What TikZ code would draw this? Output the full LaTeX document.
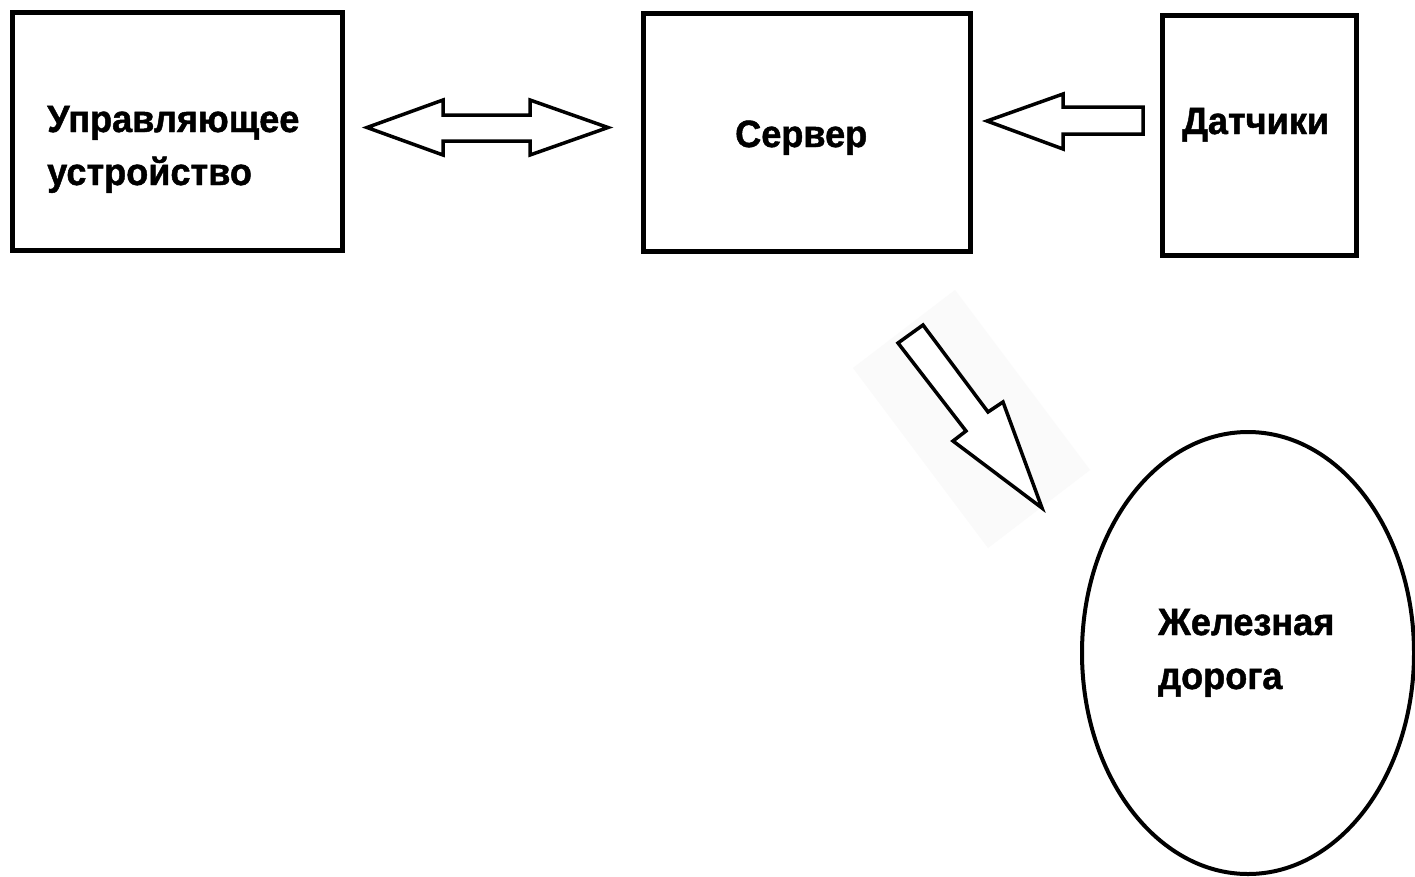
\documentclass[tikz,border=0pt]{standalone}
\usepackage{fontspec}
\setmainfont{Liberation Sans}
\newfontfamily\lblfont[FakeStretch=0.95, BoldFeatures={FakeBold=1.2}]{Liberation Sans}
\usetikzlibrary{shapes.geometric}
\begin{document}
\begin{tikzpicture}[x=1pt,y=-1pt,
  box/.style={draw, line width=5pt, fill=white, inner sep=0pt},
  oval/.style={ellipse, draw, line width=4pt, fill=white, inner sep=0pt},
  lbl/.style={font=\lblfont\fontsize{38}{53}\selectfont\bfseries, inner sep=0pt, align=left},
  blockarrow/.style={draw, line width=3.5pt, line join=miter, fill=white},
  shade/.style={fill=black!2, draw=none}]
\useasboundingbox (0,0) rectangle (1415,876);
\fill[white] (0,0) rectangle (1415,876);
% nodes
\node[box, minimum width=330pt, minimum height=238pt] (ctrl) at (177.5,131.5) {};
\node[box, minimum width=327pt, minimum height=238pt] (server) at (807,132) {};
\node[box, minimum width=194pt, minimum height=240pt] (sensors) at (1259,135) {};
\node[oval, minimum width=332pt, minimum height=442pt] (rail) at (1248,653) {};
% labels
\node[lbl, anchor=base west] (ctrlA) at (47,132) {Управляющее};
\node[lbl, anchor=base west] (ctrlB) at (47,185) {устройство};
\node[lbl, anchor=base west] (serverT) at (735,147) {Сервер};
\node[lbl, anchor=base west] (sensorsT) at (1182,134) {Датчики};
\node[lbl, anchor=base west] (railA) at (1158,635) {Железная};
\node[lbl, anchor=base west] (railB) at (1158,689) {дорога};
% block arrows
\draw[blockarrow] (367,127.5) -- (443,100) -- (443,115) -- (530,115) -- (530,100)
  -- (608,127.5) -- (530,155) -- (530,141) -- (443,141) -- (443,155) -- cycle;
\draw[blockarrow] (987,121) -- (1063,94) -- (1063,107) -- (1143,107) -- (1143,134)
  -- (1063,134) -- (1063,149) -- cycle;
\fill[shade] (955,290) -- (1090,470) -- (988,548) -- (853,368) -- cycle;
\draw[blockarrow] (923,325) -- (988,412) -- (1003,402) -- (1042,508) -- (953,441)
  -- (966,431) -- (898,343) -- cycle;
\end{tikzpicture}
\end{document}
